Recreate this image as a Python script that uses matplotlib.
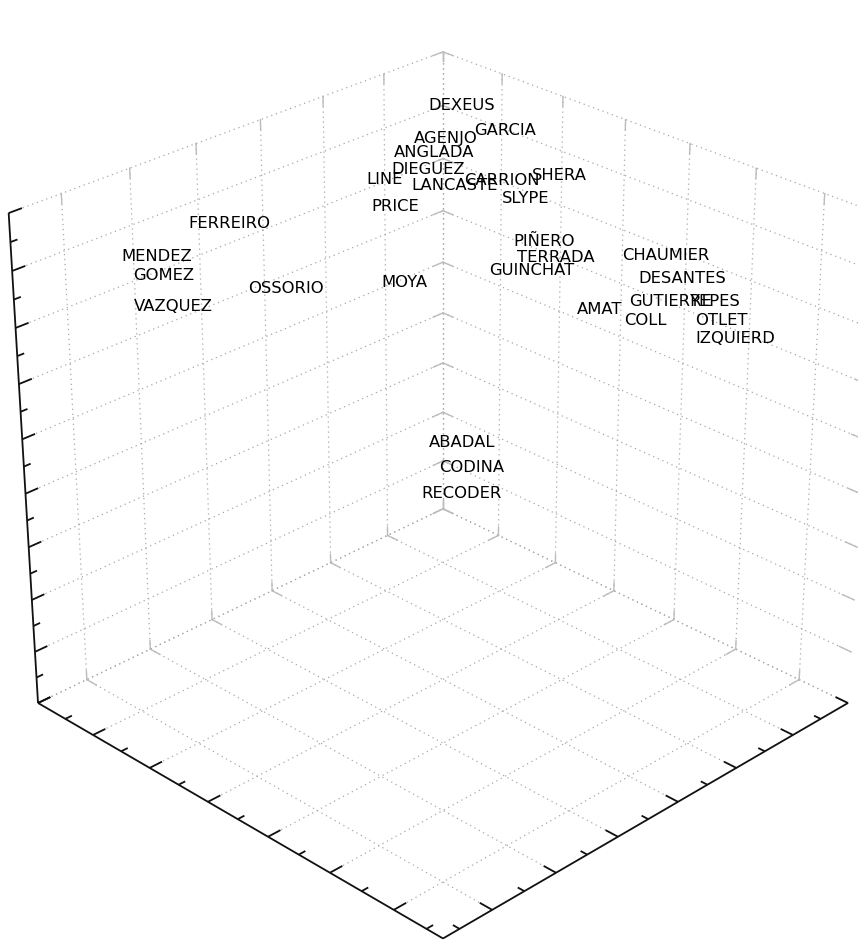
import numpy as np
import matplotlib
matplotlib.use("Agg")
import matplotlib.pyplot as plt
from mpl_toolkits.mplot3d import proj3d

# author labels and their scores on the three dimensions
authors = ["DEXEUS", "GARCIA", "AGENJO", "ANGLADA", "DIEGUEZ", "LINE", "LANCASTE",
           "CARRION", "SHERA", "PRICE", "SLYPE", "PIÑERO", "TERRADA", "GUINCHAT",
           "CHAUMIER", "DESANTES", "GUTIERRE", "YEPES", "AMAT", "COLL", "OTLET",
           "IZQUIERD", "FERREIRO", "MENDEZ", "GOMEZ", "VAZQUEZ", "OSSORIO", "MOYA",
           "ABADAL", "CODINA", "RECODER"]
dim1 = [-0.868, -0.538, -0.807, -0.779, -0.717, -0.746, -0.572,
        -0.359, -0.096, -0.626, -0.165, 0.079, 0.196, 0.138,
        0.709, 0.941, 0.889, 1.043, 0.585, 0.828, 1.063,
        1.110, -0.817, -0.798, -0.716, -0.656, -0.484, -0.331,
        0.214, 0.244, 0.252]
dim2 = [0.993, 0.955, 0.824, 0.722, 0.617, 0.363, 0.651,
        0.746, 0.856, 0.313, 0.709, 0.575, 0.528, 0.432,
        0.705, 0.557, 0.543, 0.662, 0.409, 0.441, 0.684,
        0.735, -0.549, -1.003, -1.036, -1.036, -0.516, 0.082,
        -0.092, -0.059, -0.130]
dim3 = [1.628, 1.596, 1.479, 1.437, 1.380, 1.407, 1.316,
        1.406, 1.507, 1.290, 1.373, 1.241, 1.198, 1.127,
        1.368, 1.386, 1.208, 1.225, 1.069, 1.098, 1.094,
        0.961, 1.473, 1.455, 1.379, 1.188, 1.149, 0.985,
        0.183, -0.006, -0.155]

# axis ranges
x_lim = (-1.2, 1.5)
y_lim = (-1.5, 1.2)
z_lim = (-1.8, 1.8)


def tick_values(lo, hi, first_major, step=0.4):
    k = np.arange(-10, 11)
    majors = first_major + step * k
    minors = majors + step / 2
    inside = lambda t: np.round(t[(t > lo - 1e-9) & (t < hi + 1e-9)], 6)
    return inside(majors), inside(minors)


x_major, x_minor = tick_values(*x_lim, first_major=-1.2)
y_major, y_minor = tick_values(*y_lim, first_major=-1.2)
z_major, z_minor = tick_values(*z_lim, first_major=-1.8)

fig = plt.figure(figsize=(8.58, 9.44), dpi=100)
ax = fig.add_axes([0.0028, 0.039, 1.0, 0.9089], projection="3d",
                  computed_zorder=False)
ax.set_proj_type("persp", focal_length=0.802)
ax.view_init(elev=28, azim=-45)
ax.set_xlim(*x_lim)
ax.set_ylim(*y_lim)
ax.set_zlim(*z_lim)
ax.set_box_aspect((1, 1, 0.935), zoom=1.137)
ax.set_axis_off()

x0, x1 = x_lim
y0, y1 = y_lim
z0, z1 = z_lim


def seg(p, q, **style):
    ax.plot(*zip(p, q), clip_on=False, **style)


grid = dict(color="#a8a8a8", lw=0.9, ls=(0, (1, 3)))
back_tick = dict(color="#bcbcbc", lw=1.0)
axis = dict(color="#111111", lw=1.3, solid_capstyle="butt")

# dotted grid on the floor and the two back walls
for xt in x_major:
    seg((xt, y0, z0), (xt, y1, z0), **grid)
    seg((xt, y1, z0), (xt, y1, z1), **grid)
for yt in y_major:
    seg((x0, yt, z0), (x1, yt, z0), **grid)
    seg((x0, yt, z0), (x0, yt, z1), **grid)
for zt in z_major:
    seg((x0, y0, zt), (x0, y1, zt), **grid)
    seg((x0, y1, zt), (x1, y1, zt), **grid)

# light ticks along the back edges of the box
tl = 0.07
for zt in z_major:
    seg((x0, y1, zt), (x0, y1 - tl, zt), **back_tick)
    seg((x0, y1, zt), (x0 + tl, y1, zt), **back_tick)
    seg((x1, y1, zt), (x1 - tl, y1, zt), **back_tick)
for yt in y_major:
    seg((x0, yt, z1), (x0, yt, z1 - tl), **back_tick)
    seg((x0, yt, z0), (x0, yt, z0 + tl), **back_tick)
    seg((x0, yt, z0), (x0 + tl, yt, z0), **back_tick)
for xt in x_major:
    seg((xt, y1, z1), (xt, y1, z1 - tl), **back_tick)
    seg((xt, y1, z0), (xt, y1, z0 + tl), **back_tick)
    seg((xt, y1, z0), (xt, y1 - tl, z0), **back_tick)

# front axes with major and minor ticks
seg((x0, y0, z0), (x1, y0, z0), **axis)
seg((x1, y0, z0), (x1, y1, z0), **axis)
seg((x0, y0, z0), (x0, y0, z1), **axis)
for ticks, size in ((x_major, 0.075), (x_minor, 0.04)):
    for xt in ticks:
        seg((xt, y0, z0), (xt, y0 + size, z0), **axis)
for ticks, size in ((y_major, 0.075), (y_minor, 0.04)):
    for yt in ticks:
        seg((x1, yt, z0), (x1 - size, yt, z0), **axis)
for ticks, size in ((z_major, 0.075), (z_minor, 0.04)):
    for zt in ticks:
        seg((x0, y0, zt), (x0, y0 + size, zt), **axis)

# author names at their scores, projected with the axes' own view matrix
px, py, _ = proj3d.proj_transform(np.array(dim1), np.array(dim2),
                                  np.array(dim3), ax.get_proj())
for name, u, v in zip(authors, px, py):
    ax.text2D(u, v, name, transform=ax.transData, ha="center", va="center",
              fontsize=11.8, family="DejaVu Sans", color="black", zorder=5)

fig.savefig("out.png", dpi=100, facecolor="white")
